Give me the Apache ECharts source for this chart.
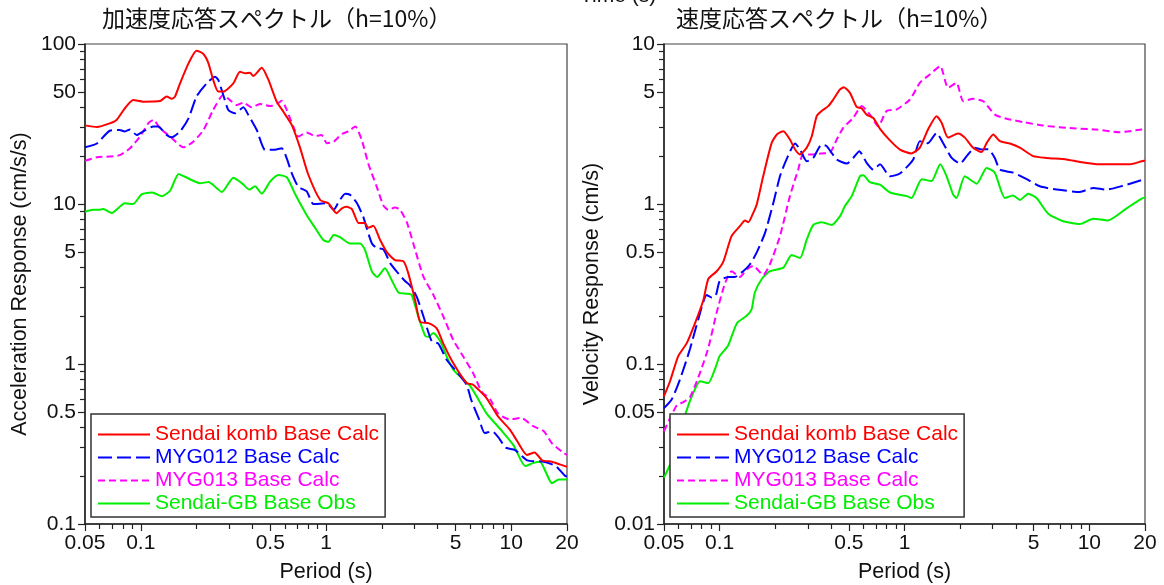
<!DOCTYPE html>
<html>
<head>
<meta charset="utf-8">
<script src="https://cdn.jsdelivr.net/npm/echarts@6/dist/echarts.min.js"></script>
<style>
  html, body { margin: 0; padding: 0; background: #fff; }
  #chart { width: 1164px; height: 585px; }
</style>
</head>
<body>
<div id="chart"></div>
<script>
// Series names and colours
const seriesNames = ['Sendai komb Base Calc', 'MYG012 Base Calc', 'MYG013 Base Calc', 'Sendai-GB Base Obs'];
const seriesColors = ['#ff0000', '#0000ff', '#ff00ff', '#00ee00'];

// Labelled tick values
const periodTicks = [0.05, 0.1, 0.5, 1, 5, 10, 20];
const accTicks = [0.1, 0.5, 1, 5, 10, 50, 100];
const velTicks = [0.01, 0.05, 0.1, 0.5, 1, 5, 10];

// Acceleration response spectra, [period (s), cm/s/s]
const sendaiKombAcc = [[0.05,31],[0.058,30.3],[0.068,31.9],[0.074,33.5],[0.082,39.6],[0.091,44.6],[0.103,43.6],[0.127,44],[0.138,46.9],[0.147,45.4],[0.153,46.9],[0.163,56.8],[0.181,75.7],[0.2,90.9],[0.218,86.6],[0.232,75.7],[0.246,59.6],[0.262,50.4],[0.279,50.4],[0.316,56.8],[0.343,67.1],[0.366,65.6],[0.389,66],[0.405,63.1],[0.45,71.1],[0.489,59.6],[0.542,43.6],[0.589,37.7],[0.653,31.2],[0.724,22.5],[0.80,15.4],[0.93,10.6],[1.03,10.1],[1.14,8.76],[1.22,9.4],[1.29,9.6],[1.38,9.3],[1.5,7.6],[1.62,7.6],[1.69,7.1],[1.8,7.3],[1.96,5.96],[2.13,5.0],[2.36,4.46],[2.62,4.38],[2.78,3.7],[3.03,2.5],[3.22,1.84],[3.57,1.8],[3.96,1.67],[4.3,1.34],[4.87,1.01],[5.75,0.76],[6.25,0.74],[7.37,0.61],[8.49,0.47],[9.81,0.39],[10.76,0.33],[12.15,0.27],[13.37,0.28],[14.68,0.25],[16.56,0.245],[19.5,0.23],[20,0.228]];
const myg012Acc = [[0.05,22.6],[0.058,23.9],[0.068,28.7],[0.077,29.0],[0.082,28.4],[0.0875,29.2],[0.095,27],[0.103,28.4],[0.117,30.5],[0.124,30.5],[0.138,27],[0.147,26.1],[0.163,28.4],[0.181,34.3],[0.2,46.9],[0.227,56.8],[0.252,62.5],[0.262,59.6],[0.279,48],[0.297,38.7],[0.323,36.9],[0.358,40.2],[0.381,36],[0.423,29],[0.469,21.8],[0.52,21.8],[0.577,22.3],[0.614,19.3],[0.653,15.6],[0.709,12.8],[0.787,12.0],[0.855,10],[1.01,10.1],[1.1,9.2],[1.17,10.3],[1.27,11.6],[1.35,11.4],[1.47,10.1],[1.59,8.3],[1.65,7.2],[1.77,5.66],[1.88,5.3],[2.04,5.2],[2.22,4.27],[2.41,3.78],[2.67,3.3],[2.84,3.1],[3.09,2.63],[3.36,1.98],[3.72,1.39],[4.04,1.34],[4.49,1.06],[5.18,0.87],[5.75,0.74],[6.07,0.6],[6.71,0.45],[7.2,0.37],[7.88,0.38],[8.49,0.35],[9.35,0.3],[10.5,0.29],[12.2,0.25],[15.0,0.245],[17.4,0.23],[19.5,0.2],[20,0.198]];
const myg013Acc = [[0.05,18.6],[0.058,19.6],[0.068,19.8],[0.077,20.2],[0.0875,22.3],[0.099,26.4],[0.11,32],[0.117,33.5],[0.127,29.8],[0.144,26.4],[0.17,22.6],[0.192,24.5],[0.218,29],[0.246,38.7],[0.279,48],[0.303,44.6],[0.33,41.6],[0.358,43],[0.397,40.2],[0.44,42.2],[0.499,40.9],[0.542,42.2],[0.577,44.2],[0.614,38.7],[0.666,30.5],[0.709,26.4],[0.787,28],[0.873,26.6],[0.948,27],[1.01,24],[1.1,24.5],[1.22,27.4],[1.32,28.4],[1.44,30.5],[1.56,25.1],[1.69,17.9],[1.88,12.8],[2.04,9.8],[2.17,9.2],[2.36,9.5],[2.51,9.2],[2.73,7.7],[2.96,5.66],[3.36,3.5],[3.8,2.7],[4.3,1.98],[4.87,1.41],[5.52,1.11],[6.25,0.87],[6.93,0.67],[7.72,0.6],[8.49,0.49],[9.81,0.45],[11.3,0.46],[13.06,0.41],[15.0,0.38],[16.56,0.32],[19.05,0.28],[20,0.27]];
const sendaiGbAcc = [[0.05,8.95],[0.0555,9.2],[0.059,9.2],[0.0628,9.3],[0.0697,8.8],[0.082,10.1],[0.091,10],[0.101,11.5],[0.115,11.8],[0.13,11.2],[0.144,12.1],[0.16,15.4],[0.173,14.8],[0.209,13.5],[0.232,13.7],[0.274,11.9],[0.316,14.6],[0.351,13.5],[0.386,12.3],[0.414,12.9],[0.45,11.6],[0.499,13.8],[0.553,15.2],[0.614,14.7],[0.68,11.6],[0.742,9.6],[0.787,8.5],[0.873,7.1],[0.967,5.96],[1.03,5.8],[1.1,6.4],[1.19,6.2],[1.35,5.66],[1.53,5.66],[1.62,5.2],[1.77,3.78],[1.89,3.5],[2.08,3.96],[2.26,3.35],[2.46,2.8],[2.73,2.75],[2.9,2.7],[3.15,1.98],[3.43,1.5],[3.57,1.48],[3.8,1.56],[4.13,1.39],[4.49,1.11],[4.87,0.92],[5.52,0.8],[6.0,0.73],[6.65,0.6],[7.37,0.49],[8.93,0.38],[10.3,0.31],[11.9,0.23],[13.06,0.24],[14.3,0.245],[15.4,0.21],[16.56,0.18],[18.1,0.19],[19.5,0.19],[20,0.19]];

// Velocity response spectra, [period (s), cm/s]
const sendaiKombVel = [[0.05,0.063],[0.0539,0.078],[0.0597,0.112],[0.0664,0.135],[0.0736,0.18],[0.0816,0.25],[0.0868,0.34],[0.0964,0.38],[0.105,0.44],[0.116,0.63],[0.129,0.73],[0.137,0.79],[0.143,0.77],[0.152,0.88],[0.159,1.0],[0.172,1.49],[0.191,2.4],[0.204,2.72],[0.221,2.85],[0.24,2.53],[0.256,2.19],[0.272,2.04],[0.296,2.25],[0.315,2.65],[0.335,3.54],[0.356,3.81],[0.387,4.09],[0.412,4.5],[0.448,5.2],[0.47,5.37],[0.507,4.95],[0.551,4.05],[0.587,3.95],[0.624,3.62],[0.678,3.45],[0.737,2.95],[0.834,2.5],[0.945,2.19],[1.09,2.07],[1.21,2.25],[1.34,2.92],[1.49,3.54],[1.59,3.21],[1.72,2.6],[1.95,2.76],[2.12,2.6],[2.35,2.25],[2.61,2.11],[2.78,2.4],[3.02,2.72],[3.28,2.47],[3.72,2.39],[4.21,2.25],[4.97,1.99],[5.87,1.94],[7.53,1.9],[8.89,1.83],[11.4,1.77],[13.5,1.77],[16.6,1.77],[19.2,1.85],[20,1.87]];
const myg012Vel = [[0.05,0.053],[0.055,0.06],[0.061,0.08],[0.0691,0.124],[0.0766,0.19],[0.0851,0.27],[0.0906,0.26],[0.0955,0.27],[0.1,0.33],[0.111,0.35],[0.121,0.35],[0.134,0.38],[0.146,0.42],[0.159,0.5],[0.176,0.66],[0.195,1.01],[0.212,1.49],[0.23,1.9],[0.256,2.39],[0.272,2.19],[0.296,1.85],[0.321,1.94],[0.356,2.35],[0.379,2.3],[0.43,1.9],[0.487,1.79],[0.528,1.94],[0.569,2.14],[0.624,1.81],[0.678,1.64],[0.737,1.77],[0.834,1.49],[0.945,1.55],[1.115,1.9],[1.21,2.47],[1.34,2.4],[1.49,2.78],[1.62,2.4],[1.8,1.94],[2.0,1.79],[2.17,1.99],[2.4,2.25],[2.61,2.19],[2.84,2.2],[3.08,1.94],[3.28,1.64],[3.87,1.57],[4.58,1.43],[5.4,1.29],[6.65,1.23],[8.89,1.19],[10.5,1.26],[12.4,1.23],[15.2,1.3],[19.2,1.41],[20,1.43]];
const myg013Vel = [[0.05,0.038],[0.0585,0.055],[0.064,0.058],[0.0691,0.062],[0.0783,0.088],[0.0868,0.126],[0.0964,0.21],[0.107,0.32],[0.116,0.38],[0.129,0.35],[0.14,0.39],[0.152,0.41],[0.172,0.36],[0.187,0.42],[0.212,0.63],[0.24,1.12],[0.266,1.64],[0.283,2.04],[0.321,2.04],[0.356,2.07],[0.395,2.09],[0.43,2.53],[0.466,2.99],[0.528,3.45],[0.587,4.09],[0.65,3.62],[0.721,3.06],[0.8,3.81],[0.907,3.9],[1.07,4.5],[1.21,5.72],[1.37,6.44],[1.56,7.27],[1.72,5.33],[1.91,5.72],[2.08,4.39],[2.35,4.54],[2.67,4.39],[3.08,3.62],[3.57,3.41],[4.39,3.25],[5.63,3.09],[7.53,2.99],[10.9,2.92],[14.6,2.81],[19.2,2.92],[20,2.93]];
const sendaiGbVel = [[0.05,0.0195],[0.056,0.026],[0.0658,0.05],[0.072,0.066],[0.0783,0.078],[0.0868,0.076],[0.0943,0.093],[0.1,0.112],[0.111,0.13],[0.124,0.18],[0.14,0.2],[0.149,0.22],[0.155,0.28],[0.169,0.34],[0.187,0.38],[0.221,0.4],[0.245,0.48],[0.272,0.46],[0.296,0.6],[0.321,0.74],[0.356,0.77],[0.404,0.74],[0.448,0.84],[0.476,0.97],[0.518,1.12],[0.574,1.49],[0.598,1.51],[0.65,1.37],[0.737,1.32],[0.834,1.18],[1.03,1.12],[1.09,1.09],[1.24,1.43],[1.4,1.39],[1.56,1.77],[1.69,1.49],[1.83,1.15],[1.91,1.09],[2.12,1.49],[2.46,1.34],[2.78,1.68],[3.08,1.57],[3.49,1.09],[3.87,1.13],[4.21,1.06],[4.67,1.16],[5.18,1.09],[5.99,0.87],[7.22,0.78],[8.89,0.75],[10.5,0.81],[12.6,0.79],[15.9,0.94],[19.2,1.08],[20,1.1]];

const FONT = '"Liberation Sans", Arial, sans-serif';
const JP_FONT = '"Noto Sans CJK JP", sans-serif';
const L = Math.log10;

// 2..9 multiples inside [lo, hi] that are not labelled ticks
function minorTicks(lo, hi, major) {
  const out = [];
  for (let e = Math.floor(L(lo)); e <= Math.ceil(L(hi)); e++) {
    for (let m = 1; m <= 9; m++) {
      const v = m * Math.pow(10, e);
      if (v < lo * 0.999 || v > hi * 1.001) continue;
      if (major.some(t => Math.abs(t - v) / t < 1e-6)) continue;
      out.push(v);
    }
  }
  return out;
}

const fmtLog = v => String(parseFloat(Math.pow(10, v).toPrecision(3)));

// For each panel: a hidden log axis carrying the data, and two value axes in
// log10 units that draw the labelled ticks and the short 2..9 ticks.
function axesFor(dim, gridIndex, lo, hi, major, name, nameGap) {
  const pos = dim === 'x' ? 'bottom' : 'left';
  const base = { gridIndex, type: 'value', min: L(lo), max: L(hi), position: pos, splitLine: { show: false } };
  return [
    { gridIndex, type: 'log', logBase: 10, min: lo, max: hi, show: false, splitLine: { show: false } },
    Object.assign({}, base, {
      name, nameLocation: 'middle', nameGap,
      nameTextStyle: { fontSize: 21.5, fontFamily: FONT, color: '#111' },
      axisLine: { show: true, onZero: false, lineStyle: { color: '#222', width: 1.5 } },
      axisTick: { show: true, inside: false, length: 7, customValues: major.map(L), lineStyle: { color: '#222', width: 1.2 } },
      axisLabel: { show: true, customValues: major.map(L), formatter: fmtLog, fontSize: 21, fontFamily: FONT, color: '#111', margin: 9 }
    }),
    Object.assign({}, base, {
      axisLine: { show: false, onZero: false },
      axisTick: { show: true, inside: false, length: 5, customValues: minorTicks(lo, hi, major).map(L), lineStyle: { color: '#222', width: 1.2 } },
      axisLabel: { show: false }
    })
  ];
}

const xAxes = [].concat(
  axesFor('x', 0, 0.05, 20, periodTicks, 'Period (s)', 37),
  axesFor('x', 1, 0.05, 20, periodTicks, 'Period (s)', 37)
);
const yAxes = [].concat(
  axesFor('y', 0, 0.1, 100, accTicks, 'Acceleration Response (cm/s/s)', 54),
  axesFor('y', 1, 0.01, 10, velTicks, 'Velocity Response (cm/s)', 61)
);

const dashTypes = ['solid', [14, 5], [7, 4], 'solid'];
const accData = [sendaiKombAcc, myg012Acc, myg013Acc, sendaiGbAcc];
const velData = [sendaiKombVel, myg012Vel, myg013Vel, sendaiGbVel];

function lineSeries(i, data, axisIndex) {
  return {
    type: 'line', name: seriesNames[i], data,
    xAxisIndex: axisIndex, yAxisIndex: axisIndex,
    symbol: 'none', smooth: 0.2, clip: true,
    lineStyle: { color: seriesColors[i], width: 2, type: dashTypes[i] },
    itemStyle: { color: seriesColors[i], opacity: 0 },
    emphasis: { disabled: true },
    z: 10 - i
  };
}

const series = [];
for (let i = seriesNames.length - 1; i >= 0; i--) {
  series.push(lineSeries(i, accData[i], 0));
  series.push(lineSeries(i, velData[i], 3));
}

function legendAt(left) {
  return {
    orient: 'vertical', left, top: 414,
    itemWidth: 52, itemHeight: 14, itemGap: 2,
    padding: [10, 6, 3, 6],
    backgroundColor: '#fff', borderColor: '#333', borderWidth: 1.5, borderRadius: 0,
    selectedMode: false,
    itemStyle: { opacity: 0 },
    textStyle: { fontSize: 21, fontFamily: FONT, lineHeight: 21 },
    data: seriesNames.map((n, i) => ({ name: n, textStyle: { color: seriesColors[i] } })),
    z: 20
  };
}

const titleStyle = { fontSize: 23, fontWeight: 'normal', fontFamily: JP_FONT, color: '#111' };

const gridBase = { top: 44, height: 480, show: true, borderColor: '#444', borderWidth: 1.2, backgroundColor: 'transparent', containLabel: false, outerBoundsMode: 'none' };

const option = {
  backgroundColor: '#fff',
  animation: false,
  textStyle: { fontFamily: FONT },
  title: [
    { text: '加速度応答スペクトル（h=10%）', left: 102, top: 7, padding: 0, textStyle: titleStyle },
    { text: '速度応答スペクトル（h=10%）', left: 676, top: 7, padding: 0, textStyle: titleStyle }
  ],
  graphic: [
    { type: 'text', x: 580, y: -14, style: { text: 'Time (s)', fontSize: 21, fontFamily: FONT, fill: '#111' } }
  ],
  grid: [
    Object.assign({ left: 85, width: 482 }, gridBase),
    Object.assign({ left: 664, width: 481 }, gridBase)
  ],
  xAxis: xAxes,
  yAxis: yAxes,
  legend: [legendAt(91), legendAt(670)],
  series
};

const chart = echarts.init(document.getElementById('chart'), null, { renderer: 'canvas' });
chart.setOption(option);
</script>
</body>
</html>
